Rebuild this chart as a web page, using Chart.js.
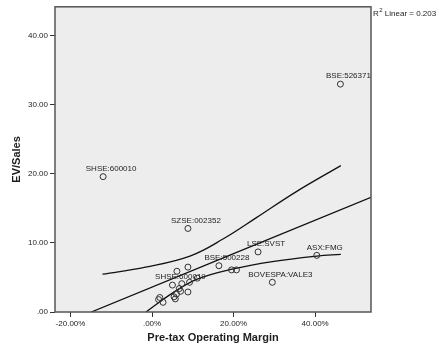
<!DOCTYPE html>
<html>
<head>
<meta charset="utf-8">
<script src="https://cdn.jsdelivr.net/npm/chart.js@4.4.1/dist/chart.umd.min.js"></script>
<style>
  html, body { margin: 0; padding: 0; background: #ffffff; }
  #wrap { width: 441px; height: 354px; }
</style>
</head>
<body>
<div id="wrap"><canvas id="evChart" width="441" height="354"></canvas></div>
<script>
// Pre-tax operating margin (%) vs EV/Sales, one point per company
const marginPct = [46.2, -12.0, 8.8, 26.0, 40.4, 16.4, 29.5, 5.0, 6.1, 8.8, 11.1, 19.5, 20.7, 7.3, 9.2, 6.7, 6.0, 7.0, 8.8, 1.9, 1.6, 2.7, 5.4, 5.7];
const evSales   = [33.0, 19.6, 12.1, 8.7, 8.2, 6.7, 4.3, 3.9, 5.9, 6.5, 4.9, 6.1, 6.1, 4.1, 4.3, 3.4, 2.6, 3.0, 2.9, 2.1, 1.8, 1.4, 2.2, 1.9];
const pointNames = ["BSE:526371", "SHSE:600010", "SZSE:002352", "LSE:SVST", "ASX:FMG", "BSE:500228", "BOVESPA:VALE3", "SHSE:600019",
                    "", "", "", "", "", "", "", "", "", "", "", "", "", "", "", ""];

// fit line and mean confidence band
const fitX = [-14.9, 53.7];
const fitY = [0, 16.6];
const upperX = [-12.15, -1.6, 9.3, 17.5, 25.7, 35.3, 46.3];
const upperY = [5.47, 6.5, 8.1, 10.6, 13.7, 17.4, 21.2];
const lowerX = [-1.5, 4.9, 11.1, 19.6, 29.5, 40.4, 46.3];
const lowerY = [0, 2.7, 4.75, 6.2, 7.3, 8.1, 8.35];

// axes
const xTicks = [-20, 0, 20, 40];
const xTickLabels = ["-20.00%", ".00%", "20.00%", "40.00%"];
const yTicks = [0, 10, 20, 30, 40];
const yTickLabels = [".00", "10.00", "20.00", "30.00", "40.00"];
const rSquared = "0.203";

const FONT = "'Liberation Sans', Arial, sans-serif";
const INK = "#1e1e1e";

function toPoints(xs, ys) {
    return xs.map((x, i) => ({ x: x, y: ys[i] }));
}

// grey plot background + frame
const plotFrame = {
    id: "plotFrame",
    beforeDraw(chart) {
        const { ctx, chartArea: a } = chart;
        ctx.save();
        ctx.fillStyle = "#ededed";
        ctx.fillRect(a.left, a.top, a.right - a.left, a.bottom - a.top);
        ctx.restore();
    },
    afterDraw(chart) {
        const { ctx, chartArea: a } = chart;
        ctx.save();
        ctx.strokeStyle = "#555555";
        ctx.lineWidth = 1.5;
        ctx.strokeRect(a.left, a.top, a.right - a.left, a.bottom - a.top);

        // R² note at the top right
        ctx.fillStyle = INK;
        ctx.textBaseline = "alphabetic";
        ctx.textAlign = "left";
        let x = a.right + 2;
        const y = 16;
        ctx.font = "8px " + FONT;
        ctx.fillText("R", x, y);
        x += ctx.measureText("R").width;
        ctx.font = "6px " + FONT;
        ctx.fillText("2", x + 0.5, y - 4);
        x += ctx.measureText("2").width + 0.5;
        ctx.font = "8px " + FONT;
        ctx.fillText(" Linear = " + rSquared, x, y);
        ctx.restore();
    }
};

// case labels over the points
const caseLabels = {
    id: "caseLabels",
    afterDatasetsDraw(chart) {
        const { ctx } = chart;
        const meta = chart.getDatasetMeta(3);
        ctx.save();
        ctx.font = "8px " + FONT;
        ctx.fillStyle = INK;
        ctx.textAlign = "center";
        ctx.textBaseline = "middle";
        meta.data.forEach((pt, i) => {
            if (pointNames[i]) ctx.fillText(pointNames[i], pt.x + 8, pt.y - 8);
        });
        ctx.restore();
    }
};

const lineStyle = {
    type: "line",
    showLine: true,
    pointRadius: 0,
    borderColor: "#111111",
    borderWidth: 1.3,
    fill: false,
    tension: 0.4
};

new Chart(document.getElementById("evChart").getContext("2d"), {
    type: "scatter",
    data: {
        datasets: [
            Object.assign({ data: toPoints(fitX, fitY), order: 4 }, lineStyle),
            Object.assign({ data: toPoints(upperX, upperY), order: 3 }, lineStyle),
            Object.assign({ data: toPoints(lowerX, lowerY), order: 2 }, lineStyle),
            {
                data: toPoints(marginPct, evSales),
                order: 1,
                pointRadius: 3,
                pointHoverRadius: 3,
                pointBackgroundColor: "rgba(0,0,0,0)",
                pointBorderColor: "#333333",
                pointBorderWidth: 1
            }
        ]
    },
    options: {
        responsive: false,
        animation: false,
        layout: { padding: { left: 0, right: 70, top: 5, bottom: 0 } },
        plugins: {
            legend: { display: false },
            tooltip: { enabled: false }
        },
        scales: {
            x: {
                type: "linear",
                min: -23.8,
                max: 53.7,
                afterBuildTicks: s => { s.ticks = xTicks.map(v => ({ value: v })); },
                afterFit: s => { s.height = 42; },
                grid: { drawOnChartArea: false, drawTicks: true, tickLength: 5, color: "#333333" },
                border: { display: false },
                ticks: {
                    padding: 2,
                    color: INK,
                    font: { family: FONT, size: 8 },
                    callback: v => xTickLabels[xTicks.indexOf(v)]
                },
                title: {
                    display: true,
                    text: "Pre-tax Operating Margin",
                    color: INK,
                    font: { family: FONT, size: 11, weight: "bold" },
                    padding: { top: 0, bottom: 9 }
                }
            },
            y: {
                type: "linear",
                min: 0,
                max: 44.2,
                afterBuildTicks: s => { s.ticks = yTicks.map(v => ({ value: v })); },
                afterFit: s => { s.width = 55; },
                grid: { drawOnChartArea: false, drawTicks: true, tickLength: 5, color: "#333333" },
                border: { display: false },
                ticks: {
                    padding: 2,
                    color: INK,
                    font: { family: FONT, size: 8 },
                    callback: v => yTickLabels[yTicks.indexOf(v)]
                },
                title: {
                    display: true,
                    text: "EV/Sales",
                    color: INK,
                    font: { family: FONT, size: 11, weight: "bold" },
                    padding: { top: 10, bottom: 0 }
                }
            }
        }
    },
    plugins: [plotFrame, caseLabels]
});
</script>
</body>
</html>
